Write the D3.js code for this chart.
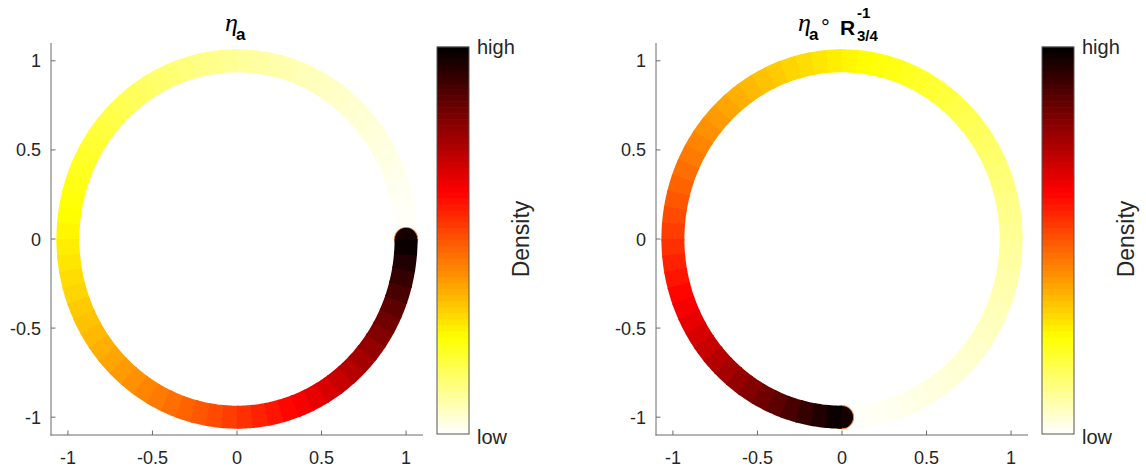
<!DOCTYPE html>
<html>
<head>
<meta charset="utf-8">
<script src="https://cdn.jsdelivr.net/npm/d3@7"></script>
<style>
  html, body { margin: 0; padding: 0; background: #fff; }
  svg { display: block; font-family: "Liberation Sans", Arial, Helvetica, sans-serif; }
</style>
</head>
<body>
<svg id="chart" width="1146" height="473"></svg>
<script>
// Circular density, one value per 5-degree bin, counter-clockwise from angle 0.
const binDegrees = 5;
const densityA = [
  0.002, 0.007, 0.011, 0.016, 0.021, 0.026, 0.031, 0.036, 0.042, 0.047, 0.053, 0.059,
  0.065, 0.071, 0.078, 0.084, 0.091, 0.098, 0.105, 0.113, 0.120, 0.128, 0.136, 0.144,
  0.153, 0.161, 0.170, 0.179, 0.189, 0.199, 0.209, 0.219, 0.230, 0.240, 0.252, 0.263,
  0.275, 0.287, 0.300, 0.312, 0.326, 0.339, 0.353, 0.367, 0.382, 0.397, 0.413, 0.429,
  0.445, 0.463, 0.480, 0.498, 0.516, 0.535, 0.555, 0.575, 0.595, 0.617, 0.638, 0.661,
  0.684, 0.708, 0.732, 0.757, 0.782, 0.809, 0.836, 0.864, 0.893, 0.922, 0.953, 0.984
];
// Density at the closing point (angle 360), drawn as the round end marker.
const densityEnd = 1.0;

// Rotation of each panel, in turns.
const rotations = [0, 0.75];

const tickValues = [-1, -0.5, 0, 0.5, 1];
const tickLabels = ["-1", "-0.5", "0", "0.5", "1"];
const colorbarLabels = ["high", "low"];
const colorbarTitle = "Density";

// Reversed "hot" colour map: 0 -> white, 1 -> black.
function hotReversed(v) {
  const t = 1 - Math.max(0, Math.min(1, v));
  const r = Math.min(1, t / 0.375);
  const g = Math.max(0, Math.min(1, (t - 0.375) / 0.375));
  const b = Math.max(0, Math.min(1, (t - 0.75) / 0.25));
  return d3.rgb(r * 255, g * 255, b * 255).formatHex();
}
const color = d3.scaleSequential(hotReversed).domain([0, 1]);

const svg = d3.select("#chart");
const textColor = "#262626";
const axisColor = "#6b6b6b";
const ringWidth = 23;
const greekFont = "Liberation Serif, DejaVu Serif, serif";

function drawPanel(offset, rotation, titleFn) {
  const g = svg.append("g").attr("transform", `translate(${offset},0)`);
  const x = d3.scaleLinear().domain([-1.1, 1.1]).range([51, 423]);
  const y = d3.scaleLinear().domain([-1.1, 1.1]).range([435, 43]);

  const pt = deg => {
    const a = 2 * Math.PI * (deg / 360 + rotation);
    return [x(Math.cos(a)), y(Math.sin(a))];
  };
  const line = d3.line();

  // Ring segments, drawn in order so the densest end sits on top.
  const ring = g.append("g");
  const lastIdx = densityA.length - 1;
  densityA.forEach((v, i) => {
    const d0 = i * binDegrees;
    const d1 = (i + 1) * binDegrees + (i < lastIdx ? 0.6 : 0);
    const pts = d3.range(0, 9).map(s => pt(d0 + (d1 - d0) * s / 8));
    ring.append("path")
      .attr("d", line(pts))
      .attr("fill", "none")
      .attr("stroke", color(v))
      .attr("stroke-width", ringWidth)
      .attr("stroke-linecap", "butt");
    if (i === lastIdx - 1) {
      // round end marker at angle 360, placed under the last segment
      const [cx, cy] = pt(360);
      ring.append("circle")
        .attr("cx", cx).attr("cy", cy).attr("r", ringWidth / 2)
        .attr("fill", color(densityEnd))
        .attr("stroke", "#f0803a")
        .attr("stroke-width", 1.2)
        .attr("stroke-opacity", 0.9);
      ring.append("circle")
        .attr("cx", cx).attr("cy", cy).attr("r", ringWidth / 2 - 0.6)
        .attr("fill", color(densityEnd * 0.97));
    }
  });

  // Axes (left and bottom only), ticks pointing inward
  const ax = g.append("g").attr("stroke", axisColor).attr("stroke-width", 1);
  ax.append("line").attr("x1", 51).attr("x2", 51).attr("y1", 43).attr("y2", 435.5);
  ax.append("line").attr("x1", 50.5).attr("x2", 423).attr("y1", 435).attr("y2", 435);
  tickValues.forEach(t => {
    ax.append("line").attr("x1", 51).attr("x2", 55.5).attr("y1", y(t)).attr("y2", y(t));
    ax.append("line").attr("x1", x(t)).attr("x2", x(t)).attr("y1", 435).attr("y2", 430.5);
  });
  const labels = g.append("g").attr("fill", textColor).attr("font-size", 18);
  tickValues.forEach((t, i) => {
    labels.append("text").attr("x", 41).attr("y", y(t) + 6.5)
      .attr("text-anchor", "end").text(tickLabels[i]);
    labels.append("text").attr("x", x(t)).attr("y", 463.5)
      .attr("text-anchor", "middle").text(tickLabels[i]);
  });

  // Title
  titleFn(g.append("g").attr("fill", "#000"));

  // Colorbar
  const cbX = 437, cbW = 32, cbTop = 47, cbBottom = 434;
  const nLevels = 64;
  const cy = d3.scaleLinear().domain([0, 1]).range([cbBottom, cbTop]);
  const cb = g.append("g");
  d3.range(nLevels).forEach(k => {
    const v0 = k / nLevels, v1 = (k + 1) / nLevels;
    cb.append("rect")
      .attr("x", cbX).attr("width", cbW)
      .attr("y", cy(v1) - 0.3).attr("height", cy(v0) - cy(v1) + 0.6)
      .attr("fill", color((v0 + v1) / 2));
  });
  cb.append("rect").attr("x", cbX).attr("y", cbTop).attr("width", cbW)
    .attr("height", cbBottom - cbTop).attr("fill", "none")
    .attr("stroke", "#555").attr("stroke-width", 1);
  const cbl = g.append("g").attr("fill", textColor).attr("font-size", 20);
  cbl.append("text").attr("x", 477).attr("y", 54).text(colorbarLabels[0]);
  cbl.append("text").attr("x", 477).attr("y", 444).text(colorbarLabels[1]);
  cbl.append("text").attr("transform", "translate(529,239) rotate(-90)")
    .attr("text-anchor", "middle").attr("font-size", 23).text(colorbarTitle);
}

function addText(g, x, y, txt, opts) {
  const t = g.append("text").attr("x", x).attr("y", y).text(txt);
  Object.entries(opts).forEach(([k, v]) => t.attr(k, v));
  return t;
}

drawPanel(0, rotations[0], g => {
  addText(g, 225, 31, "η", { "font-family": greekFont, "font-style": "italic", "font-size": 26 });
  addText(g, 236, 40, "a", { "font-weight": "bold", "font-size": 17 });
});

drawPanel(605, rotations[1], g => {
  addText(g, 193, 31, "η", { "font-family": greekFont, "font-style": "italic", "font-size": 26 });
  addText(g, 204, 40, "a", { "font-weight": "bold", "font-size": 17 });
  addText(g, 216, 35, "°", { "font-size": 22 });
  addText(g, 235, 35, "R", { "font-weight": "bold", "font-size": 21 });
  addText(g, 252, 18, "-1", { "font-weight": "bold", "font-size": 15 });
  addText(g, 252, 41, "3/4", { "font-weight": "bold", "font-size": 15 });
});
</script>
</body>
</html>
